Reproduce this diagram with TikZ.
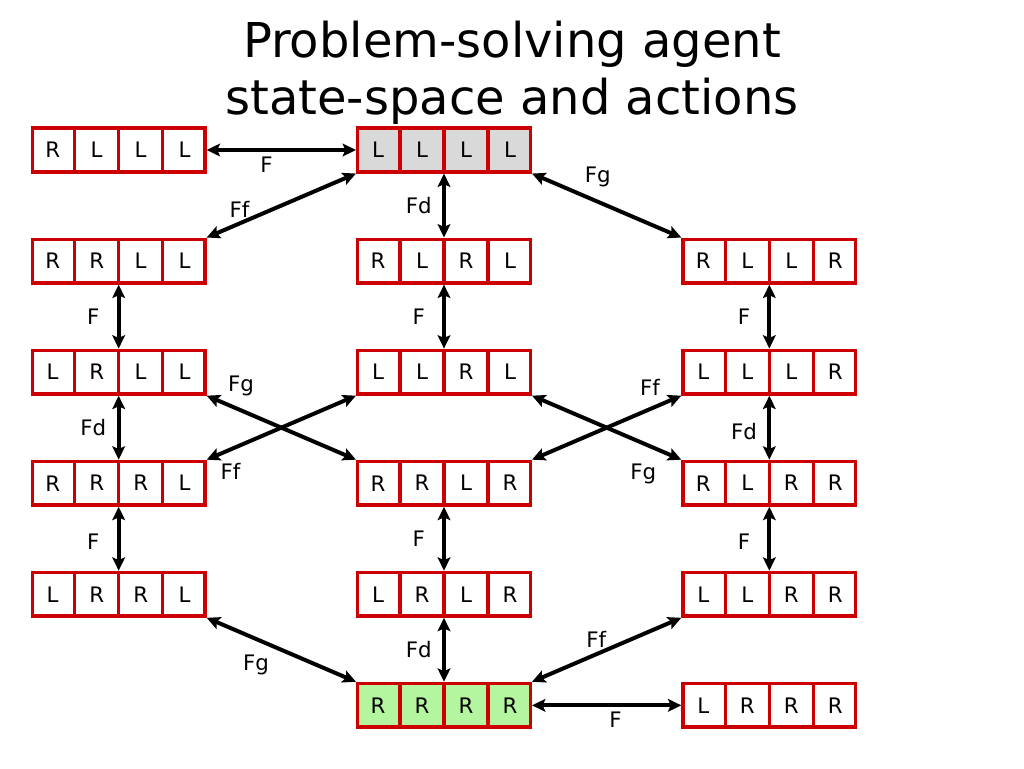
\documentclass[tikz,border=0pt]{standalone}
\usepackage{fontspec}
\setmainfont{DejaVu Sans}
\usepackage{tikz}
\usetikzlibrary{arrows.meta,positioning,shapes.multipart}
\definecolor{statered}{HTML}{CC0000}
\definecolor{startgray}{HTML}{D9D9D9}
\definecolor{goalgreen}{HTML}{B4F5A0}

\begin{document}
\begin{tikzpicture}
    [x=0.75pt, y=-0.75pt, node distance=112pt,
    font=\fontsize{16}{19}\selectfont,
    % STYLES
    % The heading style is used for the two title lines
    heading/.style={font=\fontsize{36}{43}\selectfont, anchor=base, inner sep=0pt},
    % The state style draws one state as a row of four cells
    state/.style={rectangle split, rectangle split horizontal, rectangle split parts=4,
      draw=statered, line width=2.6pt, fill=white, inner xsep=0pt, inner ysep=0pt,
      text width=30.4pt, align=center, text height=22.2pt, text depth=10.5pt},
    % The move style is used for the actions between states
    move/.style={{Stealth[length=10pt,width=9.5pt,inset=2pt]}-{Stealth[length=10pt,width=9.5pt,inset=2pt]}, line width=3pt},
    % The vlabel style puts the name of a vertical action left of it
    vlabel/.style={xshift=-19pt}]

    \useasboundingbox (0,0) rectangle (1024,768);

    % Title
    \node [heading] (title) at (512,57) {Problem-solving agent};
    \node [heading] (subtitle) at (512,114) {state-space and actions};

    % Draw states
    \node [state, fill=startgray] (LLLL) at (444,150) {L\nodepart{two}L\nodepart{three}L\nodepart{four}L};
    \node [state, left=of LLLL] (RLLL) {R\nodepart{two}L\nodepart{three}L\nodepart{four}L};
    \node [state, below=48pt of LLLL] (RLRL) {R\nodepart{two}L\nodepart{three}R\nodepart{four}L};
    \node [state, left=of RLRL] (RRLL) {R\nodepart{two}R\nodepart{three}L\nodepart{four}L};
    \node [state, right=of RLRL] (RLLR) {R\nodepart{two}L\nodepart{three}L\nodepart{four}R};
    \node [state, below=48pt of RLRL] (LLRL) {L\nodepart{two}L\nodepart{three}R\nodepart{four}L};
    \node [state, left=of LLRL] (LRLL) {L\nodepart{two}R\nodepart{three}L\nodepart{four}L};
    \node [state, right=of LLRL] (LLLR) {L\nodepart{two}L\nodepart{three}L\nodepart{four}R};
    \node [state, below=48pt of LLRL] (RRLR) {R\nodepart{two}R\nodepart{three}L\nodepart{four}R};
    \node [state, left=of RRLR] (RRRL) {R\nodepart{two}R\nodepart{three}R\nodepart{four}L};
    \node [state, right=of RRLR] (RLRR) {R\nodepart{two}L\nodepart{three}R\nodepart{four}R};
    \node [state, below=48pt of RRLR] (LRLR) {L\nodepart{two}R\nodepart{three}L\nodepart{four}R};
    \node [state, left=of LRLR] (LRRL) {L\nodepart{two}R\nodepart{three}R\nodepart{four}L};
    \node [state, right=of LRLR] (LLRR) {L\nodepart{two}L\nodepart{three}R\nodepart{four}R};
    \node [state, fill=goalgreen, below=48pt of LRLR] (RRRR) {R\nodepart{two}R\nodepart{three}R\nodepart{four}R};
    \node [state, right=of RRRR] (LRRR) {L\nodepart{two}R\nodepart{three}R\nodepart{four}R};

    % Draw actions
    \path[move]
    (RLLL.east) edge node[below, pos=0.4] {F} (LLLL.west)
    (LLLL.south west) edge node[above, pos=0.78] {Ff} (RRLL.north east)
    (LLLL.south) edge node[vlabel] {Fd} (RLRL.north)
    (LLLL.south east) edge node[above=6pt, pos=0.44] {Fg} (RLLR.north west)
    (RRLL.south) edge node[vlabel] {F} (LRLL.north)
    (RLRL.south) edge node[vlabel] {F} (LLRL.north)
    (RLLR.south) edge node[vlabel] {F} (LLLR.north)
    (LRLL.south) edge node[vlabel] {Fd} (RRRL.north)
    (LLLR.south) edge node[vlabel, pos=0.56] {Fd} (RLRR.north)
    (LRLL.south east) edge node[above right, pos=0.1] {Fg} (RRLR.north west)
    (LLRL.south west) edge node[below right, pos=0.95] {Ff} (RRRL.north east)
    (LLLR.south west) edge node[above left, pos=0.1] {Ff} (RRLR.north east)
    (LLRL.south east) edge node[below left=4pt, pos=0.9] {Fg} (RLRR.north west)
    (RRRL.south) edge node[vlabel, pos=0.55] {F} (LRRL.north)
    (RRLR.south) edge node[vlabel] {F} (LRLR.north)
    (RLRR.south) edge node[vlabel, pos=0.55] {F} (LLRR.north)
    (LRRL.south east) edge node[below=7pt, pos=0.33] {Fg} (RRRR.north west)
    (LRLR.south) edge node[vlabel] {Fd} (RRRR.north)
    (LLRR.south west) edge node[above, pos=0.57] {Ff} (RRRR.north east)
    (RRRR.east) edge node[below, pos=0.56] {F} (LRRR.west);
\end{tikzpicture}
\end{document}
